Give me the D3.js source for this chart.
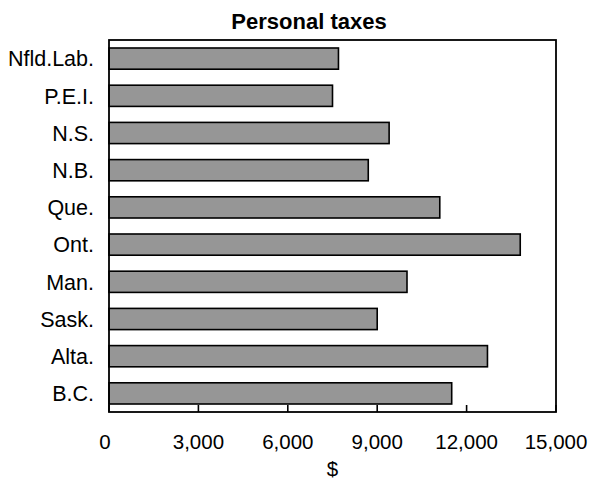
<!DOCTYPE html>
<html>
<head>
<meta charset="utf-8">
<script src="https://cdn.jsdelivr.net/npm/d3@7"></script>
<style>
  body { margin: 0; background: #fff; }
  text { font-family: "Liberation Sans", Arial, sans-serif; fill: #000; }
</style>
</head>
<body>
<div id="chart"></div>
<script>
const provinces = ["Nfld.Lab.", "P.E.I.", "N.S.", "N.B.", "Que.", "Ont.", "Man.", "Sask.", "Alta.", "B.C."];
const taxes = [7700, 7500, 9400, 8700, 11100, 13800, 10000, 9000, 12700, 11500];
const xTicks = [0, 3000, 6000, 9000, 12000, 15000];

const data = provinces.map((p, i) => ({ name: p, value: taxes[i] }));

const width = 592;
const height = 481;
const margin = { top: 40, left: 109, bottom: 69, right: 36 };
const iwidth = width - margin.left - margin.right;
const iheight = height - margin.top - margin.bottom;

const svg = d3.select("#chart")
  .append("svg")
  .attr("width", width)
  .attr("height", height);

const x = d3.scaleLinear().domain([0, 15000]).range([0, iwidth]);
const y = d3.scaleBand().domain(provinces).range([0, iheight])
  .paddingInner(0.43).paddingOuter(0.215);

const g = svg.append("g")
  .attr("transform", `translate(${margin.left},${margin.top})`);

// bars
g.selectAll("rect.bar")
  .data(data)
  .enter()
  .append("rect")
  .attr("class", "bar")
  .attr("x", 0)
  .attr("y", d => y(d.name))
  .attr("width", d => x(d.value))
  .attr("height", y.bandwidth())
  .attr("fill", "#969696")
  .attr("stroke", "#000")
  .attr("stroke-width", 1.6);

// frame
g.append("rect")
  .attr("x", 0).attr("y", 0)
  .attr("width", iwidth).attr("height", iheight)
  .attr("fill", "none")
  .attr("stroke", "#000")
  .attr("stroke-width", 1.8);

// x ticks (inside)
g.selectAll("line.tick")
  .data(xTicks)
  .enter()
  .append("line")
  .attr("class", "tick")
  .attr("x1", d => x(d)).attr("x2", d => x(d))
  .attr("y1", iheight - 7).attr("y2", iheight)
  .attr("stroke", "#000")
  .attr("stroke-width", 1.6);

// x tick labels
g.selectAll("text.xl")
  .data(xTicks)
  .enter()
  .append("text")
  .attr("class", "xl")
  .attr("x", d => x(d) - (d === 0 ? 4 : 0))
  .attr("y", iheight + 37)
  .attr("text-anchor", "middle")
  .style("font-size", "20.5px")
  .text(d => d3.format(",")(d));

// y labels
g.selectAll("text.yl")
  .data(provinces)
  .enter()
  .append("text")
  .attr("class", "yl")
  .attr("x", -15)
  .attr("y", d => y(d) + y.bandwidth() / 2)
  .attr("dy", "0.36em")
  .attr("text-anchor", "end")
  .style("font-size", "21.5px")
  .text(d => d);

// title
svg.append("text")
  .attr("x", 309)
  .attr("y", 29)
  .attr("text-anchor", "middle")
  .style("font-size", "22px")
  .style("font-weight", "bold")
  .text("Personal taxes");

// axis title
svg.append("text")
  .attr("x", margin.left + iwidth / 2)
  .attr("y", 476)
  .attr("text-anchor", "middle")
  .style("font-size", "20.5px")
  .text("$");
</script>
</body>
</html>
